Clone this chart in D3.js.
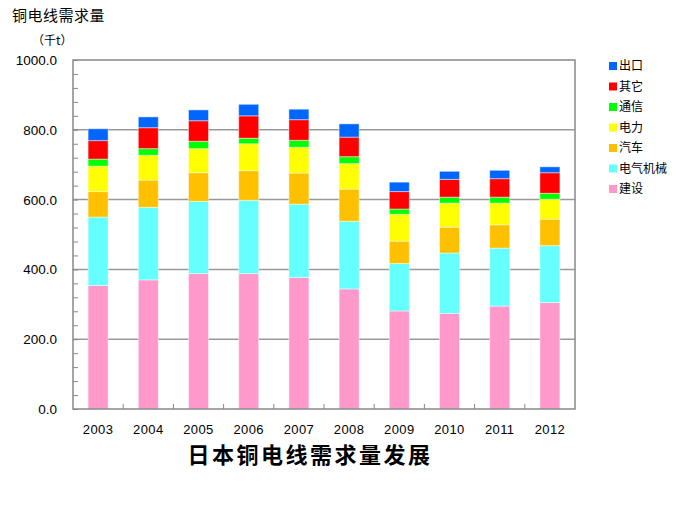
<!DOCTYPE html>
<html><head><meta charset="utf-8">
<script src="https://cdn.jsdelivr.net/npm/d3@7"></script>
<style>body{margin:0;background:#fff}svg{display:block}</style>
</head><body>
<script>
const years = ["2003","2004","2005","2006","2007","2008","2009","2010","2011","2012"];
const seriesNames = ["建设","电气机械","汽车","电力","通信","其它","出口"];
const construction = [354,370,388,388,377,344,281,274,295,305];
const electrical   = [196,208,207,210,210,194,136,173,166,163];
const automobile   = [73,78,82,85,89,92,64,74,67,76];
const power        = [73,71,69,77,74,73,77,69,62,57];
const telecom      = [20,19,21,16,20,20,15,17,17,17];
const other        = [53,60,59,64,59,56,50,51,53,59];
const exportV      = [34,31,31,33,30,38,27,23,24,17];
const yTicks = [0,200,400,600,800,1000];
const colors = ["#ff99cc","#66ffff","#ffc000","#ffff00","#00ff00","#ff0000","#0066ff"];
const seriesVals = [construction,electrical,automobile,power,telecom,other,exportV];

const W=683,H=516;
const svg=d3.select("body").append("svg").attr("width",W).attr("height",H);
const m={l:73,r:575,t:60,b:409};
const x=d3.scaleBand().domain(years).range([m.l,m.r]);
const y=d3.scaleLinear().domain([0,1000]).range([m.b,m.t]);

const table=years.map((yr,i)=>{const o={year:yr};seriesNames.forEach((s,k)=>o[s]=seriesVals[k][i]);return o;});
const stack=d3.stack().keys(seriesNames)(table);

// gridlines
svg.append("g").selectAll("line").data(yTicks.filter(t=>t>0&&t<1000)).join("line")
  .attr("x1",m.l).attr("x2",m.r).attr("y1",d=>y(d)).attr("y2",d=>y(d))
  .attr("stroke","#999").attr("stroke-width",1.5);

// bars
const bw=20;
svg.append("g").selectAll("g").data(stack).join("g").attr("fill",(d,i)=>colors[i])
  .selectAll("rect").data(d=>d).join("rect")
  .attr("x",d=>x(d.data.year)+x.bandwidth()/2-bw/2).attr("width",bw)
  .attr("y",d=>y(d[1])).attr("height",d=>y(d[0])-y(d[1]))
  .attr("stroke","rgba(255,255,255,0.45)").attr("stroke-width",1);

// frame
svg.append("rect").attr("x",m.l).attr("y",m.t).attr("width",m.r-m.l).attr("height",m.b-m.t)
  .attr("fill","none").attr("stroke","#888").attr("stroke-width",1.5);

// y axis with inward ticks
const yAxis=d3.axisRight(y).tickValues(d3.range(0,1001,40)).tickSize(5).tickFormat("");
const ya=svg.append("g").attr("transform",`translate(${m.l},0)`).call(yAxis);
ya.select(".domain").remove();
ya.selectAll("line").attr("stroke","#888");
svg.append("g").selectAll("text").data(yTicks).join("text")
  .attr("x",57).attr("y",d=>y(d)+5).attr("text-anchor","end")
  .attr("font-family","Liberation Sans, Arial, sans-serif").attr("font-size",13.5).attr("fill","#000")
  .text(d=>d3.format(".1f")(d));

// x boundary ticks
const xb=years.slice(1).map(d=>x(d));
svg.append("g").selectAll("line").data(xb).join("line")
  .attr("x1",d=>d).attr("x2",d=>d).attr("y1",m.b).attr("y2",m.b-5).attr("stroke","#888");
const xAxis=d3.axisBottom(x).tickSize(0);
const xa=svg.append("g").attr("transform",`translate(0,${m.b})`).call(xAxis);
xa.select(".domain").remove();
xa.selectAll("text").attr("dy",0).attr("y",25).attr("font-family","Liberation Sans, Arial, sans-serif")
  .attr("font-size",13).attr("letter-spacing",0.4).attr("fill","#000");

// titles
svg.append("text").attr("x",12).attr("y",21).attr("font-family","Noto Sans CJK SC, sans-serif")
  .attr("font-size",15).attr("letter-spacing",0.5).text("铜电线需求量");
svg.append("text").attr("x",32).attr("y",45).attr("font-family","Noto Sans CJK SC, sans-serif")
  .attr("font-size",12).text("（千t）");
svg.append("text").attr("x",310).attr("y",463).attr("text-anchor","middle").attr("font-family","Noto Sans CJK SC, serif")
  .attr("font-size",22).attr("letter-spacing",2.5).attr("font-weight",700).text("日本铜电线需求量发展");

// legend
const legOrder=["出口","其它","通信","电力","汽车","电气机械","建设"];
const leg=svg.append("g").selectAll("g").data(legOrder).join("g")
  .attr("transform",(d,i)=>`translate(609,${62+i*20.5})`);
leg.append("rect").attr("width",8).attr("height",8).attr("fill",d=>colors[seriesNames.indexOf(d)]);
leg.append("text").attr("x",10).attr("y",8).attr("font-family","Noto Sans CJK SC, sans-serif")
  .attr("font-size",12).text(d=>d);
</script>
</body></html>
